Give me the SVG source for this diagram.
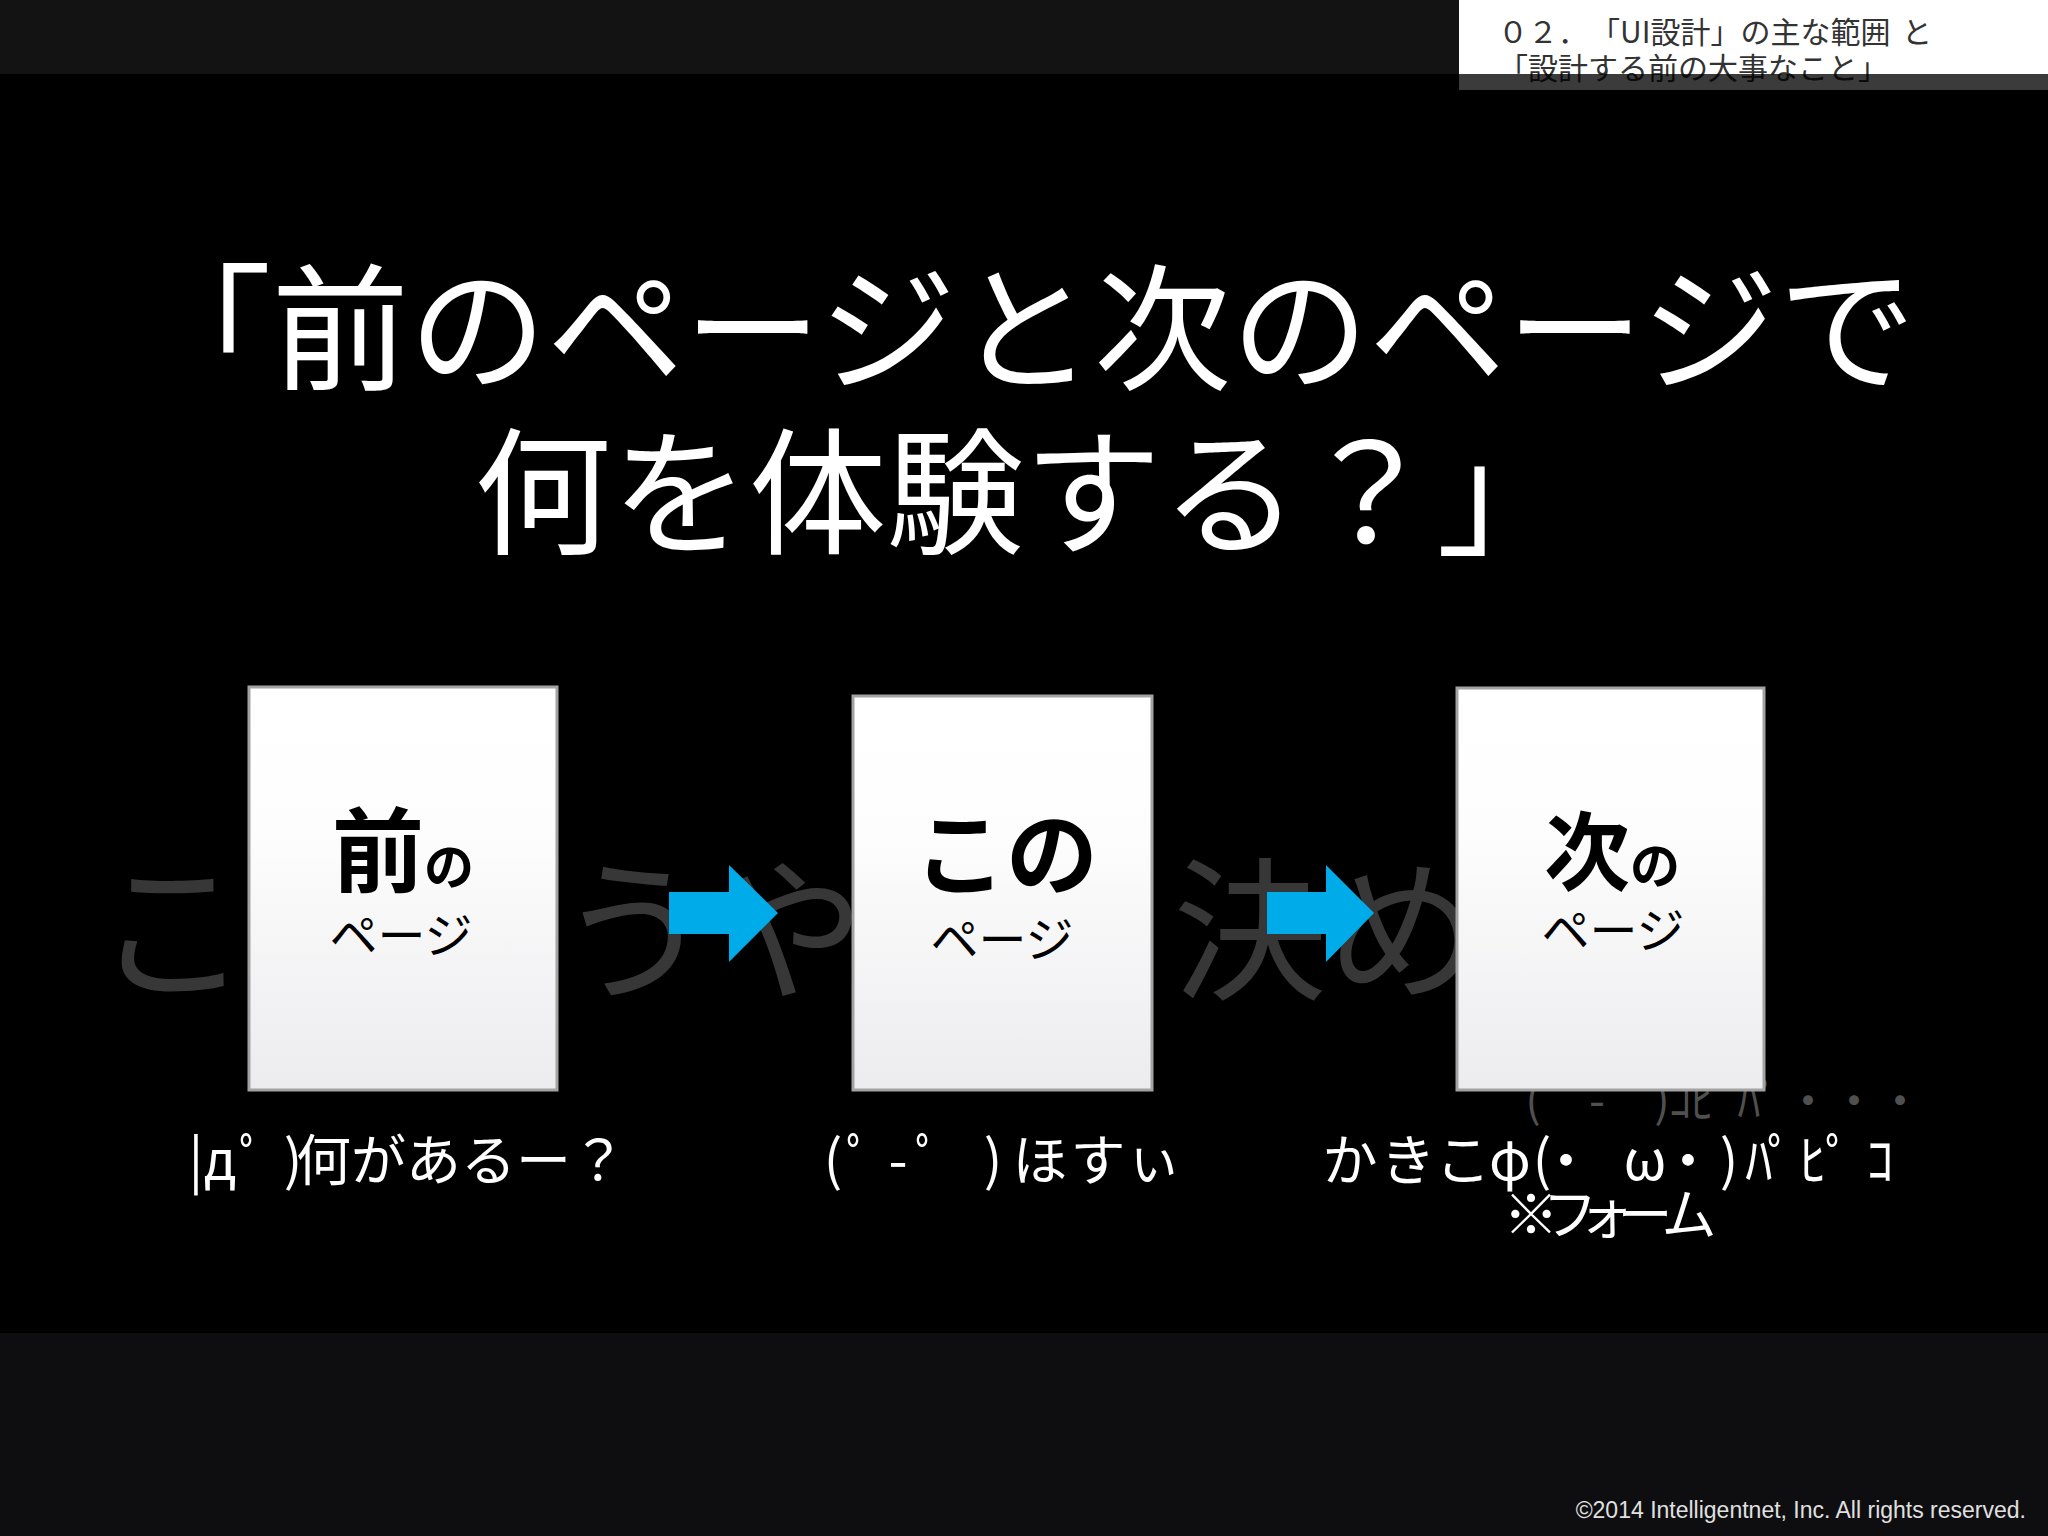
<svg xmlns="http://www.w3.org/2000/svg" width="2048" height="1536" viewBox="0 0 2048 1536">
<defs>
<linearGradient id="pg" x1="0" y1="0" x2="0" y2="1">
<stop offset="0" stop-color="#ffffff"/>
<stop offset="0.35" stop-color="#fdfdfd"/>
<stop offset="1" stop-color="#ececef"/>
</linearGradient>
<style>
text{font-family:'Noto Sans CJK JP','Noto Sans',sans-serif}
.title{fill:#ffffff;font-size:137.5px}
.ghost{fill:#373737;font-size:154px}
.ghost2{fill:#505050;font-size:46px}
.cap{fill:#ffffff;font-size:55px}
.page{fill:url(#pg);stroke:#a3a3a3;stroke-width:3}
.big{fill:#000;font-weight:700}
.sub{fill:#000;font-size:48px}
.arrow{fill:#00abe9}
.hdr{fill:#333333;font-size:30px}
</style>
</defs>
<rect width="2048" height="1536" fill="#000"/>
<rect x="0" y="0" width="1459" height="74" fill="#131313"/>
<rect x="0" y="1333" width="2048" height="203" fill="#0e0e10"/>
<g id="header">
<rect x="1459" y="0" width="589" height="90" fill="#ffffff"/>
<text class="hdr" y="43"><tspan x="1498">０２．</tspan><tspan x="1590">「UI設計」の主な範囲</tspan><tspan x="1902">と</tspan></text>
<text class="hdr" x="1498" y="79">「設計する前の大事なこと」</text>
<rect x="1459" y="74" width="589" height="16" fill="#000" fill-opacity="0.77"/>
</g>
<g id="title">
<text class="title" x="134" y="380">「前のページと次のページで</text>
<text class="title" x="474" y="544">何を体験する？」</text>
</g>
<g id="ghost-text">
<text class="ghost" text-anchor="middle" x="172" y="988">こ</text>
<text class="ghost" text-anchor="middle" x="634" y="988">う</text>
<text class="ghost" text-anchor="middle" x="788" y="988">や</text>
<text class="ghost" text-anchor="middle" x="1250" y="988">決</text>
<text class="ghost" text-anchor="middle" x="1404" y="988">め</text>
<text class="ghost2" text-anchor="middle" y="1117" x="1533 1597 1662 1680 1702 1749 1768 1808 1854 1900">(-)ｺﾋﾊﾟ・・・</text>
</g>
<g id="connectors">
<path class="arrow" d="M669 892 H729 V865 L778 913 L729 962 V934 H669 Z"/>
<path class="arrow" d="M1267 892 H1326 V865 L1374 913 L1326 962 V934 H1267 Z"/>
</g>
<g id="prev-page">
<rect class="page" x="249" y="687" width="308" height="403"/>
<text class="big" x="332" y="885"><tspan font-size="92">前</tspan><tspan font-size="50">の</tspan></text>
<text class="sub" x="401" y="953" text-anchor="middle">ページ</text>
</g>
<g id="this-page">
<rect class="page" x="853" y="696" width="299" height="394"/>
<text class="big" x="1006" y="888" font-size="92" text-anchor="middle">この</text>
<text class="sub" x="1002" y="957" text-anchor="middle">ページ</text>
</g>
<g id="next-page">
<rect class="page" x="1457" y="688" width="307" height="402"/>
<text class="big" x="1544" y="884"><tspan font-size="86">次</tspan><tspan font-size="50">の</tspan></text>
<text class="sub" x="1613" y="948" text-anchor="middle">ページ</text>
</g>
<g id="captions">
<text class="cap" y="1180" text-anchor="middle" x="196 220 253 293 323.5 378.5 433.5 488.5 543.5 598.5">|дﾟ)何があるー？</text>
<text class="cap" y="1180" text-anchor="middle" x="833 860 898 929 993 1040 1098 1154">(ﾟ-ﾟ)ほすぃ</text>
<text class="cap" y="1180" text-anchor="middle" x="1350 1408 1463 1510 1542 1566 1645 1688 1729 1759 1781 1813 1839 1880">かきこφ(・ω・)ﾊﾟﾋﾟｺ</text>
<text class="cap" y="1234" font-size="38" text-anchor="middle" x="1531 1570 1606 1645 1689">※フォーム</text>
</g>
<g id="footer">
<text x="2026" y="1518" text-anchor="end" fill="#e0e0e0" font-size="23" style="font-family:'Liberation Sans',Arial,sans-serif">©2014 Intelligentnet, Inc. All rights reserved.</text>
</g>
</svg>
